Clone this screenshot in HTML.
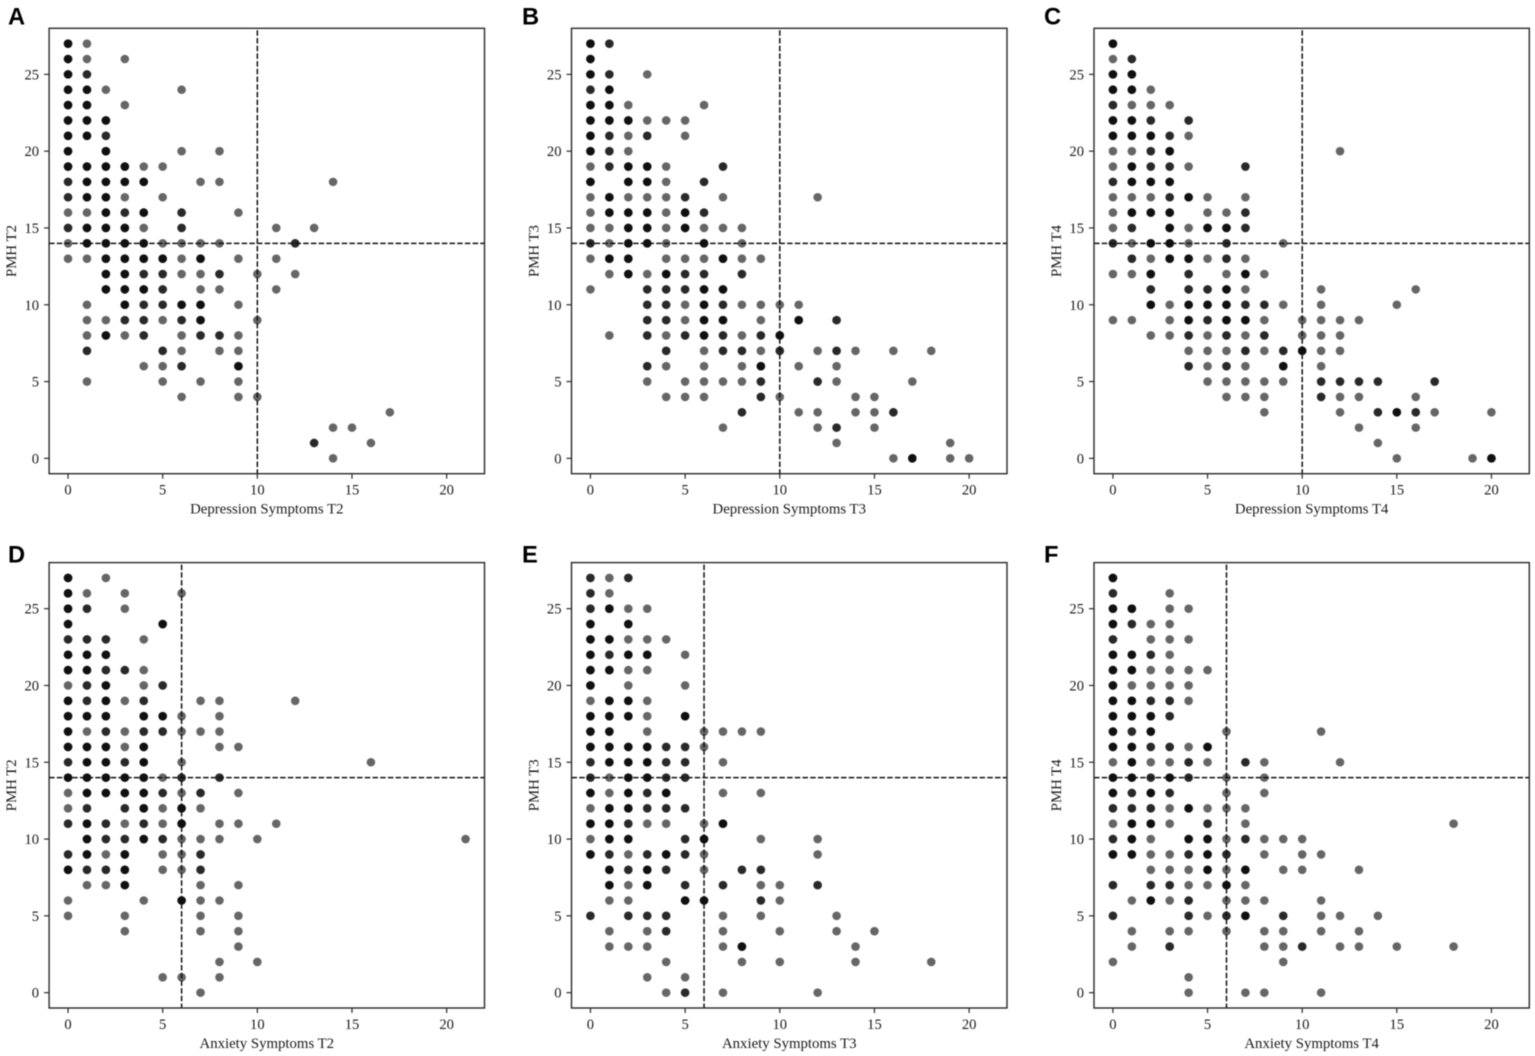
<!DOCTYPE html>
<html lang="en">
<head>
<meta charset="utf-8">
<title>PMH vs Symptoms Scatter Plots</title>
<style>
html,body{margin:0;padding:0;background:#fff;width:1535px;height:1056px;overflow:hidden}
svg{display:block;filter:blur(0.4px)}
text{font-family:"Liberation Serif",serif;fill:#1a1a1a}
.panel-letter{font-family:"Liberation Sans",sans-serif;font-weight:700;font-size:23.7px;fill:#000}
.tick-label{font-size:14.6px}
.axis-title{font-size:14.8px}
</style>
</head>
<body>
<svg id="figure" xmlns="http://www.w3.org/2000/svg" width="1535" height="1056" viewBox="0 0 1535 1056"></svg>
<script>
// Axis tick values shared by all panels
const xTicks = [0, 5, 10, 15, 20];
const yTicks = [0, 5, 10, 15, 20, 25];

// Each row: [PMH score, symptom scores at one sample, two samples, three or more samples]
const rowsA = [
[27,[1],[],[0]],[26,[1,3],[],[0]],[25,[],[1],[0]],[24,[2,6],[],[0,1]],[23,[3],[],[0,1]],[22,[],[],[0,1,2]],
[21,[],[2],[0,1]],[20,[6,8],[],[0,2]],[19,[4,5],[],[0,1,2,3]],[18,[7,8,14],[0],[1,2,3,4]],[17,[3,5],[0],[1,2]],
[16,[0,1,9],[3,6],[2,4]],[15,[4,11,13],[0,6],[1,2,3]],[14,[0,5,6,7,8],[12],[1,2,3,4]],[13,[0,1,6,9,11],[],[2,3,4,5,7]],
[12,[6,7,10,12],[4,5,8],[2,3]],[11,[7,8,11],[5],[2,3,4]],[10,[1,9],[4,5],[3,6,7]],[9,[1,2,5,10],[3,4,6],[7]],
[8,[1,3,6,9],[4,7,8],[2]],[7,[6,8,9],[1,5],[]],[6,[4,5],[6],[9]],[5,[1,5,7,9],[],[]],[4,[6,9,10],[],[]],
[3,[17],[],[]],[2,[14,15],[],[]],[1,[16],[13],[]],[0,[14],[],[]]
];
const rowsB = [
[27,[],[1],[0]],[26,[],[],[0]],[25,[3],[1],[0]],[24,[],[0],[1]],[23,[2,6],[],[0,1]],[22,[3,4,5],[],[0,1,2]],
[21,[2,5],[1,3],[0]],[20,[2],[1],[0]],[19,[0,4],[1,7],[2,3]],[18,[4],[6],[0,2,3]],[17,[0,2,3,4,7,12],[5],[1]],
[16,[0,4],[6],[1,2,3,5]],[15,[0,1,4,6,7,8],[],[2,3,5]],[14,[1,4,8],[0],[2,3,6]],[13,[0,4,5,6,8,9],[],[1,2,7]],
[12,[1,3],[5,6,8],[2,4]],[11,[0],[3,4,5],[6,7]],[10,[5,8,9,10,11],[3,4,7],[6]],[9,[5,9],[3,4,13],[6,7,11]],
[8,[1,4,8],[3,5,7,9],[6,10]],[7,[6,9,12,14,16,18],[4,7,8,10,13],[]],[6,[4,6,8,11,13],[3],[9]],
[5,[3,5,6,7,8,13,17],[9,12],[]],[4,[4,5,6,10,14,15],[9],[]],[3,[11,12,14,15],[8,16],[]],[2,[7,12,15],[13],[]],
[1,[13,19],[],[]],[0,[16,19,20],[],[17]]
];
const rowsC = [
[27,[],[],[0]],[26,[0],[1],[]],[25,[],[],[0,1]],[24,[2],[],[0,1]],[23,[1,2,3],[0],[]],[22,[],[2,4],[0,1]],
[21,[4],[3],[0,1,2]],[20,[0,1,12],[2],[3]],[19,[0,4],[2,3,7],[1]],[18,[],[0],[1,2,3]],[17,[0,1,2,5,7],[3],[4]],
[16,[0,5,6],[7],[1,2,3]],[15,[0,4],[1,7],[3,5,6]],[14,[1,4,9],[0,6],[2,3]],[13,[2,5,7],[1,6],[3,4]],
[12,[0,1,6,8],[4],[2,7]],[11,[7,11,16],[2,4,5],[6]],[10,[3,9,11,15],[7,8],[2,4,5,6]],
[9,[0,1,3,8,10,11,12,13],[5],[4,6,7]],[8,[2,3,5,7,10,11,12],[4,6,8],[]],[7,[4,5,6,8,11,12],[7,9],[10]],
[6,[5,7,11],[4,6],[9]],[5,[5,6,7,8,9],[11,12,13,14,17],[]],[4,[6,7,8,12,13,16],[11],[]],
[3,[8,12,17,20],[14,16],[15]],[2,[13,16],[],[]],[1,[14],[],[]],[0,[15,19],[],[20]]
];
const rowsD = [
[27,[2],[],[0]],[26,[1,3,6],[],[0]],[25,[3],[1],[0]],[24,[],[],[0,5]],[23,[4],[0,1,2],[]],[22,[],[],[0,1,2]],
[21,[4],[2,3],[0,1]],[20,[0,4],[1,5],[2]],[19,[3,7,8,12],[1,4],[0,2]],[18,[6,8],[],[0,1,2,4,5]],
[17,[1,3,6,7,8],[2,4,5],[0]],[16,[3,8,9],[],[0,1,2,4]],[15,[6,16],[0,3],[1,2,4]],[14,[5],[6,8],[0,1,2,3,4]],
[13,[0,6,9],[5,7],[1,2,3,4]],[12,[0,5,7],[1,3],[4,6]],[11,[3,5,8,9,11],[0,2,4],[1,6]],
[10,[6,7,8,10,21],[2,3,5],[1,4]],[9,[2,5,6],[0,7],[1,3]],[8,[5,6],[1,2,7],[0,3]],[7,[1,2,7,9],[],[3]],
[6,[0,4,7,8],[],[6]],[5,[0,3,7,9],[],[]],[4,[3,7,9],[],[]],[3,[9],[],[]],[2,[8,10],[],[]],[1,[5,6,8],[],[]],[0,[7],[],[]]
];
const rowsE = [
[27,[1],[0,2],[]],[26,[1],[0],[]],[25,[2,3],[0],[1]],[24,[],[],[0,2]],[23,[2,3,4],[],[0,1]],[22,[5],[1],[0,2,3]],
[21,[2,3],[],[0,1]],[20,[2,5],[],[0]],[19,[0,3],[],[1,2]],[18,[3],[],[0,1,2,5]],[17,[3,6,7,8,9],[],[0,1]],
[16,[6],[4,5],[0,1,2,3]],[15,[7],[0,4,5],[1,2,3]],[14,[1],[0,4,5],[2,3]],[13,[1,7,9],[3],[0,2,4]],
[12,[0],[3,4,5],[1,2]],[11,[3,4,6],[2],[0,1,7]],[10,[0,9,12],[5],[1,2,6]],[9,[2,6,12],[1,3,5],[0,4]],
[8,[6],[2,4,8,9],[1,3]],[7,[2,9,10],[5,7,12],[1,3]],[6,[1,2,10],[9],[5,6]],[5,[7,9,13],[0,2,3,4],[]],
[4,[1,3,7,10,13,15],[4],[]],[3,[1,2,3,7,14],[],[8]],[2,[4,8,10,14,18],[],[]],[1,[3,5],[],[]],[0,[4,7,12],[5],[]]
];
const rowsF = [
[27,[],[],[0]],[26,[3],[0],[]],[25,[3,4],[],[0,1]],[24,[2,3],[1],[0]],[23,[2,3,4],[0],[]],[22,[3],[2],[0,1]],
[21,[2,3,4,5],[],[0,1]],[20,[1,2,3,4],[],[0]],[19,[4],[2,3],[0,1]],[18,[],[3],[0,1,2]],[17,[6,11],[1],[0,2]],
[16,[4],[2,3],[0,1,5]],[15,[0,2,3,5,8,12],[4,7],[1]],[14,[6,8],[2,4],[0,1,3]],[13,[6,8],[1,3],[0,2]],
[12,[3,5,6,7],[0,1,2],[4]],[11,[0,3,7,18],[5],[1,2]],[10,[2,6,8,9,10],[0,7],[1,4,5]],
[9,[2,3,8,10,11],[4,6],[0,1,5]],[8,[2,3,4,6,9,10,13],[],[5,7]],[7,[4,5,7],[0,2,3],[6]],
[6,[1,3,6,7,8,11],[4],[2]],[5,[5,11,12,14],[0,4,6,9],[7]],[4,[1,3,4,6,8,9,11,13],[],[]],
[3,[1,8,9,12,13,15,18],[3,10],[]],[2,[0,9],[],[]],[1,[4],[],[]],[0,[4,7,8,11],[],[]]
];

const NS = 'http://www.w3.org/2000/svg';
const fig = document.getElementById('figure');

function make(tag, attrs, parent, text) {
  const el = document.createElementNS(NS, tag);
  for (const k in attrs) el.setAttribute(k, attrs[k]);
  if (text !== undefined) el.textContent = text;
  parent.appendChild(el);
  return el;
}

function drawPanel(letter, rows, cfg) {
  const g = make('g', {}, fig);
  
  

  // axis functions: xlim -1..22, ylim -1..28
  const sx = v => cfg.left + (v + 1) * (cfg.right - cfg.left) / 23;
  const sy = v => cfg.bottom - (v + 1) * (cfg.bottom - cfg.top) / 29;

  const title = make('text', {x: cfg.letterX, y: cfg.letterY, class: 'panel-letter'}, g, letter);
  
  

  // points: each sample drawn at alpha 0.6, so overlap darkens
  const pts = make('g', {}, g);
  
  
  rows.forEach(row => {
    const pmh = row[0];
    [1, 2, 3].forEach(samples => {
      row[samples].forEach(score => {
        for (let i = 0; i < samples; i++) {
          const dot = make('circle', {cx: sx(score), cy: sy(pmh), r: 4.3, fill: '#000', 'fill-opacity': 0.6}, pts);
          
          
        }
      });
    });
  });

  // threshold lines
  const hl = make('line', {x1: cfg.left, x2: cfg.right, y1: sy(14), y2: sy(14), stroke: '#111', 'stroke-width': 1.5, 'stroke-dasharray': '5.5 2.2'}, g);
  
  
  const vl = make('line', {x1: sx(cfg.cut), x2: sx(cfg.cut), y1: cfg.top + 2, y2: cfg.bottom, stroke: '#111', 'stroke-width': 1.5, 'stroke-dasharray': '5.5 2.2'}, g);
  
  

  // frame
  const frame = make('rect', {x: cfg.left, y: cfg.top, width: cfg.right - cfg.left, height: cfg.bottom - cfg.top, fill: 'none', stroke: '#2a2a2a', 'stroke-width': 1.4}, g);
  
  

  // ticks
  xTicks.forEach(t => {
    const tk = make('line', {x1: sx(t), x2: sx(t), y1: cfg.bottom, y2: cfg.bottom + 5, stroke: '#2a2a2a', 'stroke-width': 1.2}, g);
    
    
    const lb = make('text', {x: sx(t), y: cfg.bottom + 21, 'text-anchor': 'middle', class: 'tick-label'}, g, String(t));
    
    
  });
  yTicks.forEach(t => {
    const tk = make('line', {x1: cfg.left - 5, x2: cfg.left, y1: sy(t), y2: sy(t), stroke: '#2a2a2a', 'stroke-width': 1.2}, g);
    
    
    const lb = make('text', {x: cfg.left - 10, y: sy(t) + 5, 'text-anchor': 'end', class: 'tick-label'}, g, String(t));
    
    
  });

  const xt = make('text', {x: (cfg.left + cfg.right) / 2, y: cfg.bottom + 40, 'text-anchor': 'middle', class: 'axis-title'}, g, cfg.xTitle);
  
  
  const yMid = (cfg.top + cfg.bottom) / 2;
  const yx = cfg.left - 33;
  const yt = make('text', {x: yx, y: yMid, 'text-anchor': 'middle', class: 'axis-title', transform: 'rotate(-90 ' + yx + ' ' + yMid + ')'}, g, cfg.yTitle);
  
  
}

const topRow = {top: 28.3, bottom: 473.7, letterY: 24.3};
const botRow = {top: 562.6, bottom: 1008, letterY: 562.5};
const col1 = {left: 49.1, right: 484.5, letterX: 8};
const col2 = {left: 571.5, right: 1007, letterX: 522};
const col3 = {left: 1094, right: 1529.3, letterX: 1044};

drawPanel('A', rowsA, {...topRow, ...col1, cut: 10, xTitle: 'Depression Symptoms T2', yTitle: 'PMH T2'});
drawPanel('B', rowsB, {...topRow, ...col2, cut: 10, xTitle: 'Depression Symptoms T3', yTitle: 'PMH T3'});
drawPanel('C', rowsC, {...topRow, ...col3, cut: 10, xTitle: 'Depression Symptoms T4', yTitle: 'PMH T4'});
drawPanel('D', rowsD, {...botRow, ...col1, cut: 6, xTitle: 'Anxiety Symptoms T2', yTitle: 'PMH T2'});
drawPanel('E', rowsE, {...botRow, ...col2, cut: 6, xTitle: 'Anxiety Symptoms T3', yTitle: 'PMH T3'});
drawPanel('F', rowsF, {...botRow, ...col3, cut: 6, xTitle: 'Anxiety Symptoms T4', yTitle: 'PMH T4'});
</script>
</body>
</html>
